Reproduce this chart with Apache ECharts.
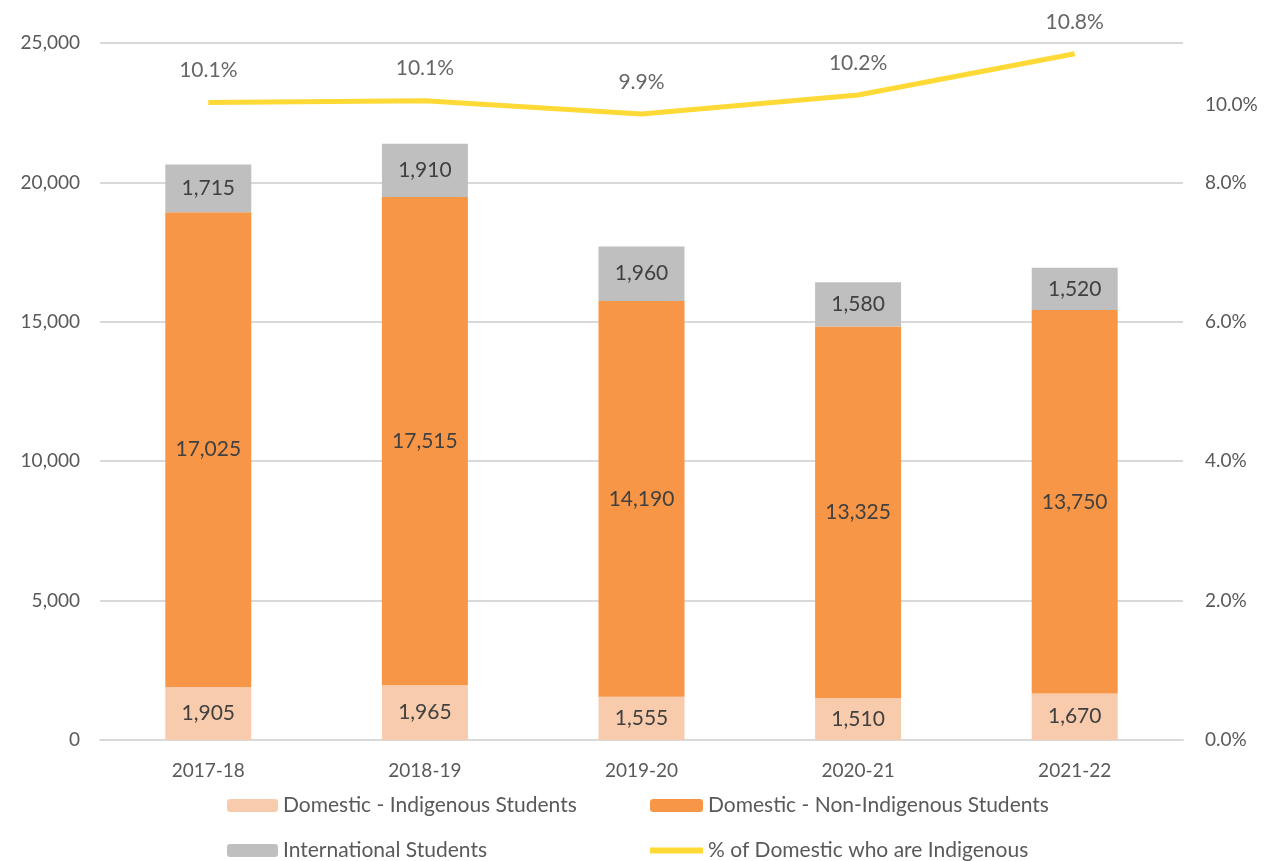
<!DOCTYPE html>
<html>
<head>
<meta charset="utf-8">
<script src="https://cdn.jsdelivr.net/npm/echarts@6/dist/echarts.min.js"></script>
<style>
  html, body { margin: 0; padding: 0; background: #fff; }
  #main { width: 1275px; height: 861px; }
</style>
</head>
<body>
<div id="main"></div>
<script>
// 数据
var years = ['2017-18', '2018-19', '2019-20', '2020-21', '2021-22'];
var indigenous = [1905, 1965, 1555, 1510, 1670];
var nonIndigenous = [17025, 17515, 14190, 13325, 13750];
var international = [1715, 1910, 1960, 1580, 1520];
var pctIndigenous = [10.06, 10.09, 9.88, 10.18, 10.83];

var txt = '#595959';
var lbl = '#404040';
var font = 'Lato, "Open Sans", sans-serif';
var yellow = '#FFD935';

function fmt(v) {
  return v.toLocaleString('en-US');
}

var barLabel = {
  show: true,
  position: 'inside',
  color: lbl,
  fontSize: 21,
  fontFamily: font,
  formatter: function (p) { return fmt(p.value); }
};

var legendText = { color: txt, fontSize: 21, fontFamily: font };

var option = {
  animation: false,
  textStyle: { fontFamily: font },
  grid: { left: 100, right: 92, top: 43, bottom: 121, outerBoundsMode: 'none' },
  legend: [{
    left: 222,
    top: 790,
    height: 75,
    orient: 'vertical',
    itemWidth: 51,
    itemHeight: 13,
    itemGap: 24,
    textStyle: legendText,
    data: ['Domestic - Indigenous Students', 'International Students']
  }, {
    left: 642,
    top: 790,
    height: 75,
    orient: 'vertical',
    itemWidth: 53,
    itemHeight: 13,
    itemGap: 24,
    textStyle: legendText,
    data: ['Domestic - Non-Indigenous Students', {
      name: '% of Domestic who are Indigenous',
      lineStyle: { width: 6, color: yellow },
      itemStyle: { opacity: 0 }
    }]
  }],
  xAxis: {
    type: 'category',
    data: years,
    axisLine: { lineStyle: { color: '#D9D9D9', width: 2 } },
    axisTick: { show: false },
    axisLabel: { color: txt, fontSize: 19, margin: 21 }
  },
  yAxis: [{
    type: 'value',
    min: 0,
    max: 25000,
    interval: 5000,
    axisLine: { show: false },
    axisTick: { show: false },
    splitLine: { lineStyle: { color: '#D9D9D9', width: 2 } },
    axisLabel: { color: txt, fontSize: 19, margin: 20, formatter: function (v) { return fmt(v); } }
  }, {
    type: 'value',
    min: 0,
    max: 10,
    interval: 2,
    position: 'right',
    axisLine: { show: false },
    axisTick: { show: false },
    splitLine: { show: false },
    axisLabel: {
      color: txt, fontSize: 19, margin: 22, lineHeight: 24.8,
      formatter: function (v) {
        // 10.0% 标签在原图中偏下
        if (v === 10) return '\n\n\n\n\n10.0%';
        return v.toFixed(1) + '%';
      }
    }
  }, {
    type: 'value',
    min: 0,
    max: 11,
    show: false
  }],
  series: [{
    name: 'Domestic - Indigenous Students',
    type: 'bar',
    stack: 'total',
    barWidth: 86,
    itemStyle: { color: '#F8CBAD' },
    label: barLabel,
    data: indigenous
  }, {
    name: 'Domestic - Non-Indigenous Students',
    type: 'bar',
    stack: 'total',
    barWidth: 86,
    itemStyle: { color: '#F79646' },
    label: barLabel,
    data: nonIndigenous
  }, {
    name: 'International Students',
    type: 'bar',
    stack: 'total',
    barWidth: 86,
    itemStyle: { color: '#BFBFBF' },
    label: barLabel,
    data: international
  }, {
    name: '% of Domestic who are Indigenous',
    type: 'line',
    yAxisIndex: 2,
    symbol: 'none',
    lineStyle: { color: yellow, width: 5 },
    itemStyle: { color: yellow },
    data: pctIndigenous
  }, {
    // 折线的数据标签
    name: 'pctLabels',
    type: 'scatter',
    yAxisIndex: 2,
    symbolSize: 1,
    itemStyle: { color: 'transparent' },
    label: {
      show: true,
      position: 'top',
      distance: 21,
      color: lbl,
      fontSize: 21,
      fontFamily: font,
      formatter: function (p) { return p.value.toFixed(1) + '%'; }
    },
    data: pctIndigenous
  }]
};

var myChart = echarts.init(document.getElementById('main'));
myChart.setOption(option);
</script>
</body>
</html>
